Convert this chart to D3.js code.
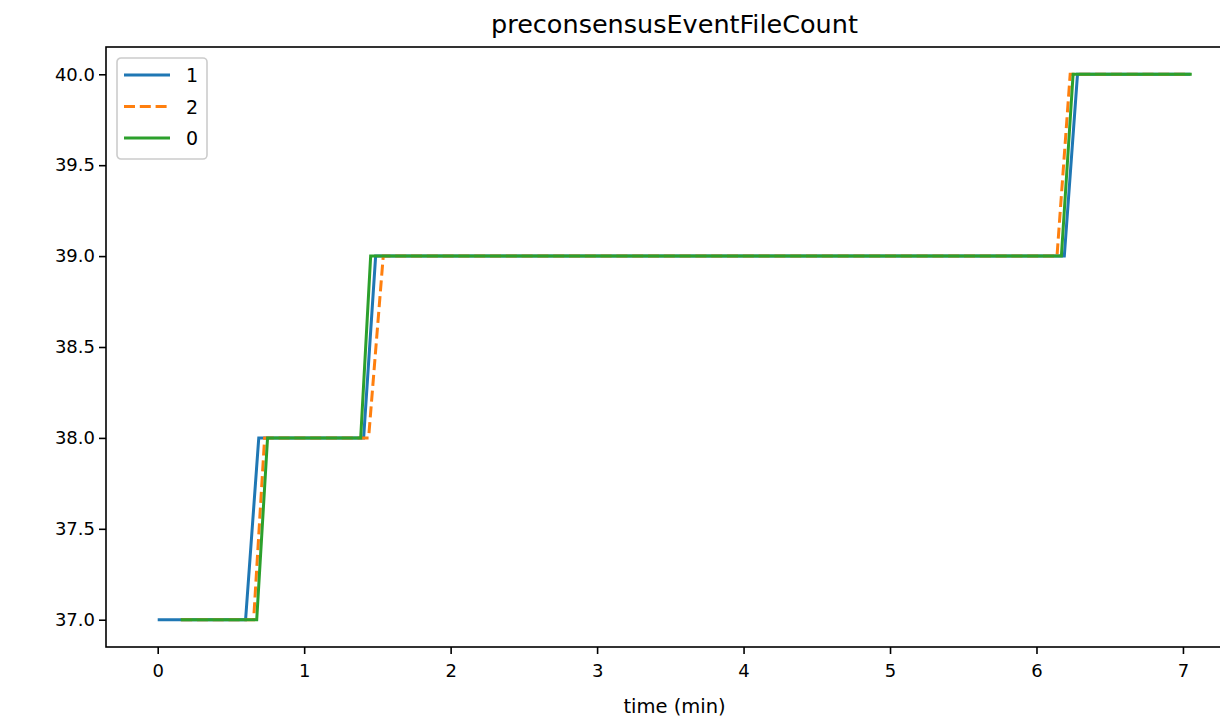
<!DOCTYPE html>
<html>
<head>
<meta charset="utf-8">
<style>
body { margin: 0; background: #fff; }
svg { display: block; font-family: "DejaVu Sans", sans-serif; }
</style>
</head>
<body>
<svg width="1220" height="721"></svg>
<script src="https://d3js.org/d3.v7.min.js"></script>
<script>
// series data (time in minutes, file count)
var names = ["1", "2", "0"];
var colors = ["#1f77b4", "#ff7f0e", "#2ca02c"];
var dashes = [null, "11,4.8", null];
var times1 = [0, 0.60, 0.69, 1.406, 1.488, 6.19, 6.28, 7.05];
var values1 = [37, 37, 38, 38, 39, 39, 40, 40];
var times2 = [0.16, 0.655, 0.73, 1.44, 1.54, 6.14, 6.23, 7.05];
var values2 = [37, 37, 38, 38, 39, 39, 40, 40];
var times0 = [0.157, 0.676, 0.75, 1.386, 1.454, 6.17, 6.25, 7.06];
var values0 = [37, 37, 38, 38, 39, 39, 40, 40];
var xTicks = [0, 1, 2, 3, 4, 5, 6, 7];
var yTicks = [37.0, 37.5, 38.0, 38.5, 39.0, 39.5, 40.0];

var series = [
  d3.zip(times1, values1),
  d3.zip(times2, values2),
  d3.zip(times0, values0)
];

var svg = d3.select("svg");
var mLeft = 106, mRight = 1243, mTop = 47, mBottom = 647;
var fs = 18;

var x = d3.scaleLinear().domain([-0.353, 7.41]).range([mLeft, mRight]);
var y = d3.scaleLinear().domain([36.85, 40.15]).range([mBottom, mTop]);

// title
svg.append("text")
  .attr("x", (mLeft + mRight) / 2)
  .attr("y", 33)
  .attr("text-anchor", "middle")
  .attr("font-size", 25.5)
  .text("preconsensusEventFileCount");

var plot = svg.append("g");

var line = d3.line()
  .x(function(d) { return x(d[0]); })
  .y(function(d) { return y(d[1]); });

series.forEach(function(s, i) {
  plot.append("path")
    .datum(s)
    .attr("d", line)
    .attr("fill", "none")
    .attr("stroke", colors[i])
    .attr("stroke-width", 3)
    .attr("stroke-dasharray", dashes[i]);
});

// axes
var xAxis = svg.append("g")
  .attr("transform", "translate(0," + mBottom + ")")
  .call(d3.axisBottom(x).tickValues(xTicks).tickFormat(d3.format("d")).tickSize(7).tickPadding(10));
var yAxis = svg.append("g")
  .attr("transform", "translate(" + mLeft + ",0)")
  .call(d3.axisLeft(y).tickValues(yTicks).tickFormat(d3.format(".1f")).tickSize(7).tickPadding(4));

[xAxis, yAxis].forEach(function(a) {
  a.select(".domain").remove();
  a.selectAll("line").attr("stroke", "#000").attr("stroke-width", 1.6);
  a.selectAll("text").attr("font-size", fs).attr("fill", "#000")
    .style("font-family", "DejaVu Sans");
});

// frame
svg.append("rect")
  .attr("x", mLeft).attr("y", mTop)
  .attr("width", mRight - mLeft).attr("height", mBottom - mTop)
  .attr("fill", "none").attr("stroke", "#000").attr("stroke-width", 1.6);

svg.append("text")
  .attr("x", (mLeft + mRight) / 2)
  .attr("y", 713)
  .attr("text-anchor", "middle")
  .attr("font-size", 19.5)
  .text("time (min)");

// legend
var legend = svg.append("g").attr("transform", "translate(117,58)");
legend.append("rect")
  .attr("width", 90).attr("height", 101).attr("rx", 4)
  .attr("fill", "#fff").attr("fill-opacity", 0.8)
  .attr("stroke", "#ccc").attr("stroke-width", 1.6);
names.forEach(function(n, i) {
  var yy = 17 + i * 31.5;
  legend.append("line")
    .attr("x1", 7).attr("x2", 53).attr("y1", yy).attr("y2", yy)
    .attr("stroke", colors[i]).attr("stroke-width", 3)
    .attr("stroke-dasharray", dashes[i]);
  legend.append("text")
    .attr("x", 69).attr("y", yy + 7)
    .attr("font-size", 19)
    .text(n);
});
</script>
</body>
</html>
